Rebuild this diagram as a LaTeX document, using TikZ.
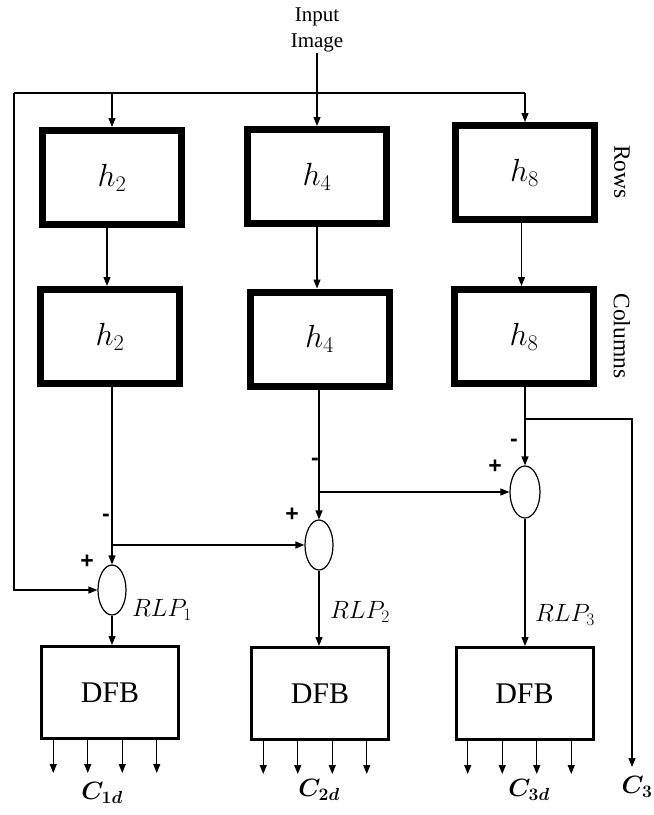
\documentclass[tikz,border=0pt]{standalone}
\usepackage{fix-cm}
\usepackage{amsmath}
\usepackage{bm}
\usepackage{fontspec}
\setmainfont{Liberation Serif}
\newfontfamily\signfont{Liberation Sans}
\usetikzlibrary{arrows.meta,shapes.geometric,calc}
\begin{document}
\begin{tikzpicture}[x=1pt,y=-1pt,
  thickbox/.style={draw,line width=7pt,minimum width=139pt,minimum height=94pt,inner sep=0pt,font=\fontsize{32}{34}\selectfont},
  dfbbox/.style={draw,line width=3pt,minimum width=137pt,minimum height=92pt,inner sep=0pt,font=\fontsize{30}{32}\selectfont},
  sumnode/.style={draw,ellipse,line width=1.2pt,minimum width=28pt,minimum height=50pt,inner sep=0pt},
  conn/.style={line width=1.2pt},
  arr/.style={conn,-{Triangle[length=9pt,width=7pt]}},
  sign/.style={font=\signfont\bfseries\fontsize{23}{23}\selectfont,inner sep=0pt},
  lbl/.style={font=\fontsize{25}{27}\selectfont,inner sep=0pt},
  clbl/.style={font=\fontsize{25}{27}\selectfont,inner sep=0pt},
  side/.style={rotate=-90,font=\fontsize{23.5}{25}\selectfont,inner sep=0pt}]
\useasboundingbox (0,0) rectangle (654,815);

% input
\node[anchor=north,align=center,inner sep=0pt,font=\fontsize{21}{26}\selectfont] (inp) at (317,8) {Input\\Image};

% row 1
\node[thickbox] (A1) at (112,177.5) {$h_2$};
\node[thickbox] (A2) at (317,176.5) {$h_4$};
\node[thickbox] (A3) at (524.5,172.5) {$h_8$};
% row 2
\node[thickbox] (B1) at (110,336.5) {$h_2$};
\node[thickbox] (B2) at (319.5,339) {$h_4$};
\node[thickbox] (B3) at (524,336.5) {$h_8$};

\node[side] (rows) at (622,172) {Rows};
\node[side] (cols) at (622,336) {Columns};

% summing ellipses
\node[sumnode] (E1) at (112,590) {};
\node[sumnode] (E2) at (319,545) {};
\node[sumnode,minimum width=30pt,minimum height=52pt] (E3) at (525,492) {};

% DFB
\node[dfbbox] (D1) at (110,692.5) {DFB};
\node[dfbbox] (D2) at (320,693.5) {DFB};
\node[dfbbox] (D3) at (524.5,693.5) {DFB};

% coordinates
\coordinate (TL) at (14,93);
\coordinate (TR) at (525,93);
\coordinate (BL) at (14,590);
\coordinate (J1) at (112,545);
\coordinate (J2) at (319,492);
\coordinate (J3) at (525,419);
\coordinate (R1) at (632,419);
\coordinate (C3end) at (632,767);
\coordinate (a1s) at ($(A1.south)+(-5,0)$);
\coordinate (a3s) at ($(A3.south)+(-3,0)$);

% input distribution
\draw[arr] (inp.south) -- (inp.south |- A2.north);
\draw[conn] (TL) -- (TR);
\draw[arr] (TL -| A1.north) -- (A1.north);
\draw[arr] (TR) -- (TR |- A3.north);
\draw[arr] (TL) -- (BL) -- (E1.west);

% row1 -> row2
\draw[arr] (a1s) -- (a1s |- B1.north);
\draw[arr] (A2.south) -- (A2.south |- B2.north);
\draw[arr] (a3s) -- (a3s |- B3.north);

% row2 -> sums
\draw[arr] (B1.south -| E1.north) -- (E1.north);
\draw[arr] (J1) -- (E2.west);
\draw[arr] (B2.south -| E2.north) -- (E2.north);
\draw[arr] (J2) -- (E3.west);
\draw[arr] (B3.south -| E3.north) -- (E3.north);
\draw[arr] (J3) -- (R1) -- (C3end);

% sums -> DFB
\draw[arr] (E1.south) -- (E1.south |- D1.north);
\draw[arr] (E2.south) -- (E2.south |- D2.north);
\draw[arr] (E3.south) -- (E3.south |- D3.north);

% DFB outputs
\foreach \d in {D1,D2,D3}{
  \foreach \dx in {-56.75,-22.25,12.25,46.75}{
    \draw[arr] ($(\d.south)+(\dx,0)$) -- ($(\d.south)+(\dx,33)$);
  }
}

% signs
\node[sign] (m1) at (106,518) {-};
\node[sign] (m2) at (315,462) {-};
\node[sign] (m3) at (514,443) {-};
\node[sign] (p1) at (87,562) {+};
\node[sign] (p2) at (292,515) {+};
\node[sign] (p3) at (495,467) {+};

% RLP labels
\node[lbl] (rlp1) at (162,610) {$RLP_1$};
\node[lbl] (rlp2) at (360,612) {$RLP_2$};
\node[lbl] (rlp3) at (565,615) {$RLP_3$};

% output labels
\node[clbl] (c1) at (102,793) {$\bm{C_{1d}}$};
\node[clbl] (c2) at (319,790) {$\bm{C_{2d}}$};
\node[clbl] (c3d) at (529,790) {$\bm{C_{3d}}$};
\node[clbl] (c3) at (637,787) {$\bm{C_{3}}$};
\end{tikzpicture}
\end{document}
